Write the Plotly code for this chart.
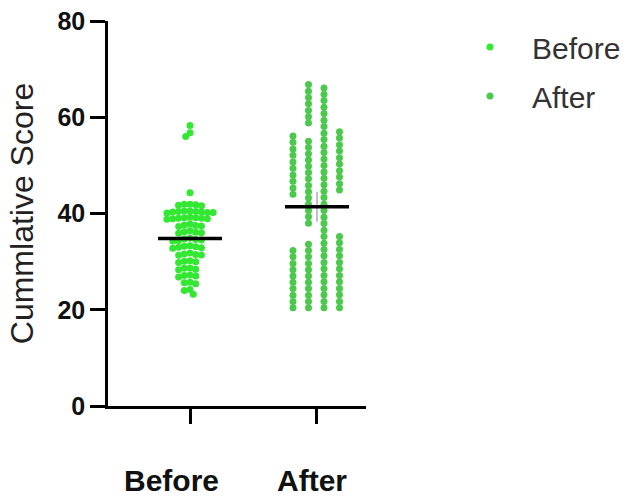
import numpy as np
import plotly.graph_objects as go

categories = ["Before", "After"]

before_values = [
    58.3, 56.8, 56.0,
    44.3,
    41.9, 41.8, 41.7, 41.9, 41.6,
    40.4, 40.3, 40.5, 40.2, 40.4, 40.3, 40.1, 40.5, 40.2,
    39.0, 39.1, 38.9, 39.2, 39.0, 38.8, 39.1, 38.9,
    37.6, 37.4, 37.8, 37.5, 37.3,
    36.2, 36.0, 36.4, 35.9, 36.1,
    34.7, 34.5, 34.9, 34.3, 34.6, 34.4,
    33.1, 33.3, 32.9, 33.2, 33.0, 32.8,
    31.6, 31.4, 31.8, 31.5, 31.3,
    30.0, 30.2, 29.8, 30.1,
    28.6, 28.4, 28.7, 28.3,
    27.0, 27.2, 26.8, 27.1,
    25.6, 25.4, 25.7,
    24.2, 24.0,
    23.2,
]

# "After" values, listed in the four stacked columns they form in the swarm
after_col1 = [56.1, 54.8, 53.4, 52.1, 50.7, 49.4, 48.0, 46.7, 45.3, 44.0,
              32.3, 31.0, 29.6, 28.3, 27.0, 25.7, 24.4, 23.0, 21.7, 20.4]
after_col2 = [66.8, 65.4, 64.1, 62.8, 61.4, 60.1, 58.8,
              55.0, 53.7, 52.4, 51.1, 49.8, 48.5, 47.2, 45.8, 44.5, 43.2, 41.9, 40.6, 39.3, 38.0,
              33.6, 32.3, 31.0, 29.6, 28.3, 27.0, 25.7, 24.4, 23.0, 21.7, 20.4]
after_col3 = [66.1, 64.8, 63.5, 62.1, 60.8, 59.4, 58.1, 56.7, 55.4, 54.0, 52.7, 51.3,
              50.0, 48.6, 47.3, 46.0, 44.6, 43.3, 41.9, 40.6, 39.2, 37.9, 36.5, 35.2,
              33.8, 32.5, 31.2, 29.8, 28.5, 27.1, 25.8, 24.4, 23.1, 21.7, 20.4]
after_col4 = [57.0, 55.7, 54.3, 53.0, 51.6, 50.3, 48.9, 47.6, 46.2, 44.9,
              35.2, 33.9, 32.5, 31.2, 29.8, 28.5, 27.1, 25.8, 24.4, 23.1, 21.7, 20.4]

before_mean = 34.8
before_sem = [34.0, 35.6]
after_mean = 41.4
after_sem = [38.3, 44.5]

y_ticks = [0, 20, 40, 60, 80]

# ---- layout geometry (pixels) ----
W, H = 626, 499
ML, MT = 108, 21
plot_w = 258
plot_h = 385
MR = W - ML - plot_w
MB = H - MT - plot_h
x_range = [-0.646, 1.386]
y_range = [0, 80]
px_per_x = plot_w / (x_range[1] - x_range[0])
px_per_y = plot_h / (y_range[1] - y_range[0])


def swarm_offsets(vals, diam):
    """Simple beeswarm: returns x offsets (pixels) for each value."""
    ys = np.array(vals) * px_per_y
    order = np.argsort(-ys)
    placed = []
    offs = np.zeros(len(vals))
    for i in order:
        y = ys[i]
        cands = [0.0]
        for (xj, yj) in placed:
            dy = abs(y - yj)
            if dy < diam:
                dx = np.sqrt(diam ** 2 - dy ** 2)
                cands += [xj + dx, xj - dx]
        cands = sorted(cands, key=lambda c: (abs(c), c))
        for c in cands:
            ok = True
            for (xj, yj) in placed:
                if (c - xj) ** 2 + (y - yj) ** 2 < diam ** 2 - 1e-6:
                    ok = False
                    break
            if ok:
                offs[i] = c
                placed.append((c, y))
                break
    return offs


before_x = 0 + swarm_offsets(before_values, 5.8) / px_per_x

col_offsets_px = [-24, -8.5, 7, 22.5]
after_cols = [after_col1, after_col2, after_col3, after_col4]
after_x, after_y = [], []
for off, col in zip(col_offsets_px, after_cols):
    after_x += [1 + off / px_per_x] * len(col)
    after_y += col

FONT = "Liberation Sans, Arial, Helvetica, sans-serif"
half = 32 / px_per_x
# category labels sit slightly left of their tick marks in the reference
label_shift_px = [-19, -5]

fig = go.Figure()
fig.add_trace(go.Scatter(
    x=before_x, y=before_values, mode="markers", name=categories[0],
    legendgroup="b",
    marker=dict(symbol="circle", size=7, color="#33e833", line=dict(width=0)),
))
fig.add_trace(go.Scatter(
    x=after_x, y=after_y, mode="markers", name=categories[1],
    legendgroup="a",
    marker=dict(symbol="circle", size=7, color="#4cc94c", line=dict(width=0)),
))
# SEM bars
for i, sem in enumerate([before_sem, after_sem]):
    fig.add_trace(go.Scatter(
        x=[i, i], y=sem, mode="lines", showlegend=False, hoverinfo="skip",
        line=dict(color="#999999", width=1.2),
    ))
# mean lines
for i, m in enumerate([before_mean, after_mean]):
    fig.add_trace(go.Scatter(
        x=[i - half, i + half], y=[m, m], mode="lines", showlegend=False,
        line=dict(color="black", width=3.5),
    ))

# category labels below the x axis
for i, (cat, s) in enumerate(zip(categories, label_shift_px)):
    fig.add_annotation(
        x=i, xref="x", y=0, yref="paper", text=f"<b>{cat}</b>",
        showarrow=False, xanchor="center", yanchor="middle",
        xshift=s, yshift=-74,
        font=dict(size=30, color="#111111", family=FONT),
    )

fig.update_layout(
    width=W, height=H,
    margin=dict(l=ML, r=MR, t=MT, b=MB, pad=0, autoexpand=False),
    paper_bgcolor="white", plot_bgcolor="white",
    font=dict(family=FONT, color="#222222"),
    showlegend=True,
    legend=dict(
        x=(448 - ML) / plot_w, xanchor="left", y=1.0, yanchor="top",
        font=dict(size=30, color="#333333", family=FONT),
        tracegroupgap=7, traceorder="grouped", itemwidth=74,
        bgcolor="rgba(0,0,0,0)",
    ),
)
fig.update_xaxes(
    range=x_range, tickmode="array", tickvals=[0, 1], showticklabels=False,
    showline=True, linecolor="black", linewidth=2.5, mirror=False,
    ticks="outside", ticklen=15, tickwidth=2.5, tickcolor="black",
    automargin=False, showgrid=False, zeroline=False,
)
fig.update_yaxes(
    range=y_range, tickmode="array", tickvals=y_ticks,
    showline=True, linecolor="black", linewidth=2.5,
    ticks="outside", ticklen=15, tickwidth=2.5, tickcolor="black",
    tickfont=dict(size=25, color="#111111", family=FONT, weight="bold"),
    title=dict(text="Cummlative Score", font=dict(size=32, color="#222222", family=FONT)),
    automargin=False,
    showgrid=False, zeroline=False,
)

fig.write_html(
    "out.html",
    config={"displayModeBar": False},
    post_script="document.body.style.margin='0';document.body.style.overflow='hidden';",
)
